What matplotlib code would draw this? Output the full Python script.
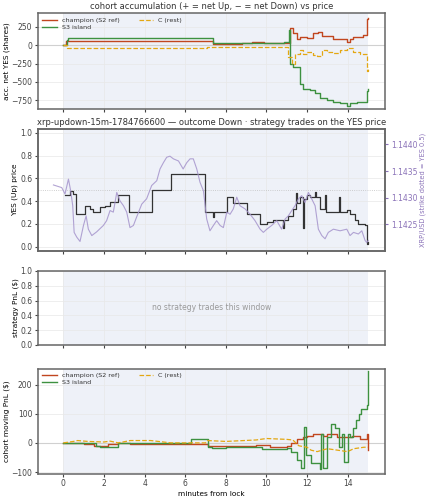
#cohort accumulation / price / pnl for one window
import numpy as np
import matplotlib
matplotlib.use("Agg")
import matplotlib.pyplot as plt

# accumulated net YES shares
acc_champ_t = [0, 0.15, 7.39, 8.8, 9.3, 9.9, 10.9, 11.17, 11.33, 11.49, 11.66, 11.99, 12.32, 12.56, 12.73, 13.3, 13.96, 14.12, 14.29, 14.78, 14.94, 15.0]
acc_champ_v = [0, 50, 20, 32, 45, 32, 25, 230, 160, 80, 115, 95, 160, 185, 125, 90, 45, 80, 115, 140, 350, 370]
acc_s3_t = [0, 0.16, 0.25, 7.39, 10.85, 11.1, 11.17, 11.33, 11.66, 11.82, 12.15, 12.4, 12.64, 12.97, 13.3, 13.63, 13.96, 14.12, 14.45, 14.86, 14.94, 15.0]
acc_s3_v = [0, 70, 92, 23, 40, 200, -255, -300, -530, -600, -615, -650, -715, -740, -765, -780, -820, -785, -765, -765, -625, -600]
acc_c_t = [0, 0.16, 7.06, 11.0, 11.08, 11.25, 11.41, 11.66, 11.82, 11.99, 12.32, 12.48, 12.73, 12.97, 13.3, 13.63, 13.96, 14.29, 14.61, 14.86, 14.94, 15.0]
acc_c_v = [0, -45, -25, -20, -160, -250, -115, -70, -115, -90, -140, -150, -70, -90, -100, -70, -45, -90, -115, -125, -350, -300]

# YES (Up) price, steps
yes_t = [0.08, 0.33, 0.45, 0.62, 1.07, 1.3, 1.48, 1.8, 2.05, 2.3, 2.7, 3.25, 4.35, 5.29, 6.98, 7.35, 7.4, 8.05, 8.37, 9.03, 9.69, 10.02, 10.34, 10.8, 10.86, 11.08, 11.33, 11.45, 11.5, 11.66, 11.8, 11.85, 11.99, 12.15, 12.4, 12.45, 12.64, 12.89, 12.93, 13.0, 13.3, 13.6, 13.65, 13.96, 14.12, 14.37, 14.53, 14.86, 14.94, 15.0]
yes_v = [0.45, 0.49, 0.46, 0.29, 0.36, 0.33, 0.30, 0.35, 0.36, 0.39, 0.45, 0.30, 0.50, 0.64, 0.30, 0.26, 0.30, 0.44, 0.38, 0.29, 0.20, 0.22, 0.23, 0.16, 0.23, 0.27, 0.33, 0.47, 0.38, 0.44, 0.16, 0.42, 0.45, 0.44, 0.48, 0.44, 0.33, 0.45, 0.30, 0.30, 0.30, 0.44, 0.30, 0.32, 0.29, 0.23, 0.20, 0.19, 0.02, 0.04]

# XRP/USD spot
xrp_t = [-0.49, -0.08, 0.08, 0.25, 0.36, 0.46, 0.53, 0.66, 0.82, 0.99, 1.12, 1.23, 1.4, 1.64, 1.97, 2.13, 2.3, 2.46, 2.63, 2.79, 2.96, 3.12, 3.28, 3.45, 3.6, 3.86, 4.1, 4.35, 4.6, 4.76, 4.93, 5.09, 5.25, 5.42, 5.67, 5.9, 6.08, 6.24, 6.4, 6.57, 6.73, 6.9, 7.06, 7.22, 7.39, 7.55, 7.72, 7.88, 8.05, 8.21, 8.37, 8.54, 8.7, 8.95, 9.2, 9.44, 9.69, 9.85, 10.02, 10.26, 10.51, 10.75, 10.92, 11.08, 11.25, 11.41, 11.58, 11.74, 11.9, 12.07, 12.23, 12.4, 12.56, 12.73, 12.89, 13.05, 13.3, 13.63, 13.96, 14.12, 14.29, 14.53, 14.7, 14.86, 14.94, 15.02]
xrp_v = [1.14324, 1.14319, 1.14307, 1.14335, 1.14313, 1.14285, 1.14235, 1.14226, 1.14218, 1.14248, 1.14266, 1.14241, 1.14229, 1.14236, 1.14248, 1.14257, 1.14276, 1.14273, 1.14310, 1.14294, 1.14285, 1.14273, 1.14244, 1.14248, 1.14263, 1.14288, 1.14298, 1.14323, 1.14332, 1.14354, 1.14366, 1.14376, 1.14378, 1.14373, 1.14369, 1.14354, 1.14366, 1.14373, 1.14373, 1.14354, 1.14329, 1.14313, 1.14260, 1.14238, 1.14248, 1.14257, 1.14248, 1.14244, 1.14273, 1.14269, 1.14279, 1.14301, 1.14285, 1.14279, 1.14269, 1.14257, 1.14241, 1.14235, 1.14241, 1.14248, 1.14257, 1.14241, 1.14260, 1.14266, 1.14276, 1.14285, 1.14298, 1.14304, 1.14291, 1.14310, 1.14298, 1.14285, 1.14241, 1.14229, 1.14223, 1.14235, 1.14241, 1.14238, 1.14241, 1.14229, 1.14235, 1.14232, 1.14238, 1.14220, 1.14216, 1.14220]
strike = 1.14315

# cohort moving PnL ($)
pnl_champ_t = [0, 1.0, 1.5, 2.2, 2.7, 3.3, 7.1, 9.5, 10.2, 11.0, 11.2, 11.5, 11.8, 12.0, 12.3, 12.6, 12.8, 13.0, 13.5, 14.0, 14.2, 14.6, 14.9, 14.98, 15.0]
pnl_champ_v = [0, -5, -10, -5, 0, -5, -10, -8, -15, -12, 0, 15, 20, 25, 30, 32, 25, 30, 20, 20, 25, 15, 15, 30, -25]
pnl_s3_t = [0, 1.3, 1.6, 1.8, 2.7, 6.3, 7.1, 7.3, 8.0, 9.8, 11.0, 11.2, 11.5, 11.7, 11.85, 11.95, 12.0, 12.2, 12.6, 12.65, 12.7, 12.8, 13.0, 13.2, 13.4, 13.6, 13.7, 13.8, 14.0, 14.1, 14.25, 14.4, 14.55, 14.65, 14.85, 14.95, 15.0]
pnl_s3_v = [0, 0, -10, -13, 0, 15, -15, -18, -15, -20, -18, -30, -60, -85, 55, -40, -40, -70, -70, -90, 30, -85, 20, 65, 50, -15, 30, -65, 30, 20, 50, 80, 100, 115, 115, 130, 245]
pnl_c_t = [0, 0.5, 0.7, 1.2, 2.0, 2.3, 2.7, 3.3, 4.3, 5.3, 7.0, 7.1, 8.0, 9.5, 10.0, 11.0, 11.3, 11.6, 12.0, 12.2, 12.5, 13.0, 13.5, 14.0, 14.3, 14.8, 15.0]
pnl_c_v = [0, 5, 8, 5, 3, 6, 0, 8, 8, 0, 0, 8, 5, 10, 15, 12, 10, -10, -15, -25, -30, -20, -25, -30, -20, -15, -15]

RED = "#c1461f"
GREEN = "#3d9140"
YEL = "#e3a712"
SHADE = "#eef1f8"
plt.rcParams.update({"font.size": 5.3, "axes.edgecolor": "#666666", "axes.linewidth": 1.1,
                     "xtick.labelsize": 5.5, "ytick.labelsize": 5.5, "axes.titlesize": 6.0,
                     "axes.labelsize": 5.3, "text.color": "#333333",
                     "xtick.color": "#444444", "ytick.color": "#444444"})

fig = plt.figure(figsize=(4.27, 5.0), dpi=100)
L, W = 0.089, 0.813
ax1 = fig.add_axes([L, 0.783, W, 0.190])
ax2 = fig.add_axes([L, 0.499, W, 0.243])
ax3 = fig.add_axes([L, 0.310, W, 0.148])
ax4 = fig.add_axes([L, 0.053, W, 0.210])

for ax in (ax1, ax2, ax3, ax4):
    ax.axvspan(0, 15, color=SHADE, zorder=0, lw=0)
    ax.grid(True, color="#e8e8e8", lw=0.5)
    ax.set_axisbelow(True)
    ax.set_xlim(-1.25, 15.85)
    ax.set_xticks(range(0, 16, 2))
    ax.tick_params(length=2.5, width=0.8, pad=1.5)
for ax in (ax1, ax2, ax3):
    ax.tick_params(labelbottom=False)

# panel 1
ax1.axhline(0, color="#d0d0d0", lw=0.8)
ax1.plot(acc_champ_t, acc_champ_v, color=RED, lw=1.0, drawstyle="steps-post", label="champion (S2 ref)")
ax1.plot(acc_s3_t, acc_s3_v, color=GREEN, lw=1.0, drawstyle="steps-post", label="S3 island")
ax1.plot(acc_c_t, acc_c_v, color=YEL, lw=0.9, ls="--", drawstyle="steps-post", label="C (rest)")
ax1.set_ylim(-860, 430)
ax1.set_yticks([-750, -500, -250, 0, 250])
ax1.set_ylabel("acc. net YES (shares)", labelpad=1)
ax1.set_title("cohort accumulation (+ = net Up, − = net Down) vs price", pad=3)
ax1.legend(loc="upper left", ncol=2, fontsize=4.6, frameon=False, handlelength=2.2, borderaxespad=0.3, labelspacing=0.2, columnspacing=3.0)

# panel 2
ax2.axhline(0.5, color="#c0c0c0", lw=0.6, ls=":")
ax2.plot(yes_t, yes_v, color="#333333", lw=0.9, drawstyle="steps-post")
ax2.set_ylim(-0.035, 1.035)
ax2.set_yticks([0.0, 0.2, 0.4, 0.6, 0.8, 1.0])
ax2.set_ylabel("YES (Up) price", labelpad=2)
ax2.set_title("xrp-updown-15m-1784766600 — outcome Down · strategy trades on the YES price", pad=3)
axr = ax2.twinx()
axr.plot(xrp_t, xrp_v, color="#a594cc", lw=0.8, alpha=0.85)
axr.set_ylim(1.14201, 1.14429)
axr.set_yticks([1.1425, 1.1430, 1.1435, 1.1440])
axr.yaxis.set_major_formatter(matplotlib.ticker.FormatStrFormatter("%.4f"))
axr.tick_params(axis="y", colors="#8a72b8", length=2.5, width=0.8, pad=1.5)
axr.set_ylabel("XRP/USD (strike dotted = YES 0.5)", color="#8a72b8", fontsize=4.8, labelpad=2)

# panel 3
ax3.set_ylim(0, 1)
ax3.set_yticks([0.0, 0.2, 0.4, 0.6, 0.8, 1.0])
ax3.set_ylabel("strategy PnL ($)", labelpad=1)
ax3.text(0.5, 0.5, "no strategy trades this window", transform=ax3.transAxes,
         ha="center", va="center", color="#999999", fontsize=5.5)

# panel 4
ax4.axhline(0, color="#d0d0d0", lw=0.8)
ax4.plot(pnl_champ_t, pnl_champ_v, color=RED, lw=1.0, drawstyle="steps-post", label="champion (S2 ref)")
ax4.plot(pnl_s3_t, pnl_s3_v, color=GREEN, lw=1.0, drawstyle="steps-post", label="S3 island")
ax4.plot(pnl_c_t, pnl_c_v, color=YEL, lw=0.9, ls="--", label="C (rest)")
ax4.set_ylim(-105, 255)
ax4.set_yticks([-100, 0, 100, 200])
ax4.set_ylabel("cohort moving PnL ($)", labelpad=1)
ax4.set_xlabel("minutes from lock", labelpad=2)
ax4.legend(loc="upper left", ncol=2, fontsize=4.6, frameon=False, handlelength=2.2, borderaxespad=0.3, labelspacing=0.2, columnspacing=3.0)

fig.savefig("out.png", dpi=100)
